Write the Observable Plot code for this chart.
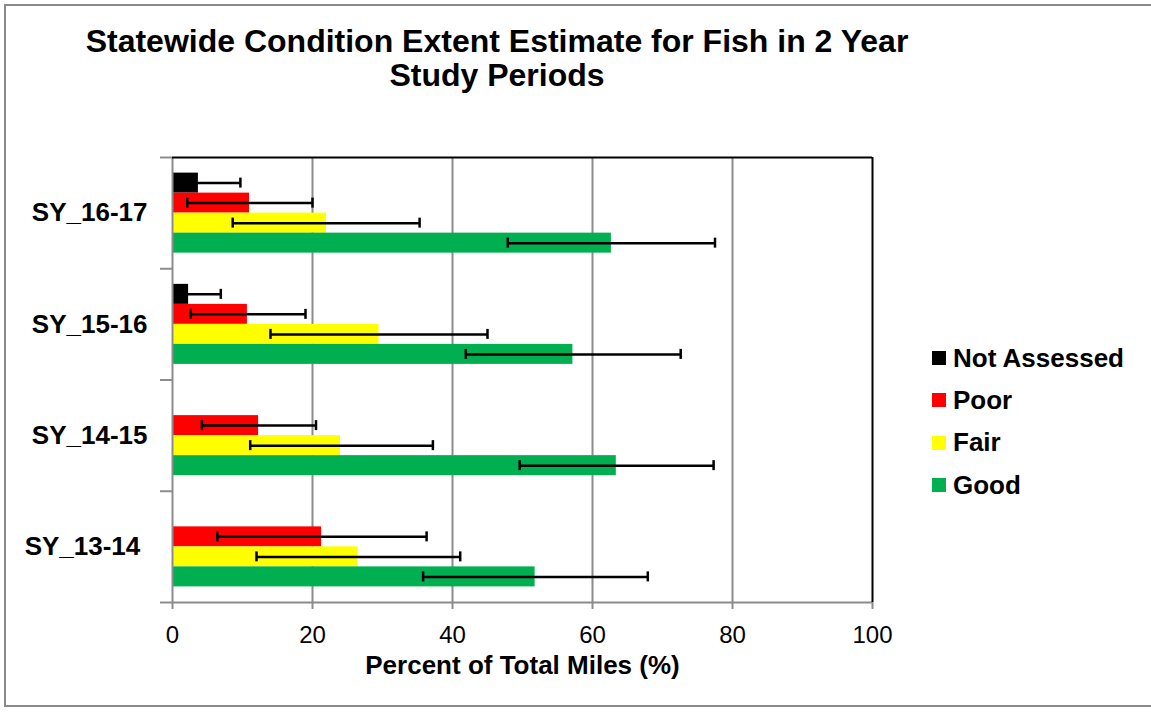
<!DOCTYPE html>
<html>
<head>
<meta charset="utf-8">
<script src="https://cdn.jsdelivr.net/npm/d3@7"></script>
<script src="https://cdn.jsdelivr.net/npm/@observablehq/plot@0.6"></script>
<style>
  html, body { margin: 0; padding: 0; background: #fff; overflow: hidden; }
  #wrap { position: relative; width: 1151px; height: 713px; font-family: "Liberation Sans", Arial, sans-serif; }
  #border { position: absolute; left: 4px; top: 4px; width: 1170px; height: 703px; border: 2px solid #8a8a8a; box-sizing: border-box; }
  #title { position: absolute; left: 0; top: 24px; width: 994px; text-align: center; font-weight: bold; font-size: 32px; line-height: 34px; color: #000; }
  #chart { position: absolute; left: 0; top: 100px; }
  #legend { position: absolute; left: 932px; top: 337px; }
  .item { display: flex; align-items: center; height: 42.3px; font-weight: bold; font-size: 26px; color: #000; }
  .sw { width: 14px; height: 14px; margin-right: 7px; }
  #chart svg text { white-space: pre; }
</style>
</head>
<body>
<div id="wrap">
  <div id="border"></div>
  <div id="title"></div>
  <div id="chart"></div>
  <div id="legend"></div>
</div>
<script>
// ---- data ----
const titleLines = ["Statewide Condition Extent Estimate for Fish in 2 Year", "Study Periods"];
const xLabel = "Percent of Total Miles (%)";
const categories = ["SY_13-14 ", "SY_14-15", "SY_15-16", "SY_16-17"]; // bottom to top
const seriesNames = ["Not Assessed", "Poor", "Fair", "Good"];       // top to bottom within a group
const seriesColors = ["#000000", "#FF0000", "#FFFF00", "#00B050"];
const xTicks = [0, 20, 40, 60, 80, 100];

const notAssessed     = [null, null, 2.3, 3.7];
const notAssessedLow  = [null, null, -2.3, -2.3];
const notAssessedHigh = [null, null, 6.9, 9.7];

const poor     = [21.3, 12.3, 10.7, 11.0];
const poorLow  = [6.4, 4.2, 2.6, 2.1];
const poorHigh = [36.3, 20.5, 19.0, 20.0];

const fair     = [26.5, 24.0, 29.5, 22.0];
const fairLow  = [12.0, 11.1, 14.0, 8.6];
const fairHigh = [41.1, 37.2, 45.0, 35.3];

const good     = [51.8, 63.4, 57.2, 62.7];
const goodLow  = [35.8, 49.6, 41.9, 47.9];
const goodHigh = [67.9, 77.3, 72.6, 77.5];

// ---- build table ----
const seriesData = [
  [notAssessed, notAssessedLow, notAssessedHigh],
  [poor, poorLow, poorHigh],
  [fair, fairLow, fairHigh],
  [good, goodLow, goodHigh]
];
const inner = d3.scaleBand().domain(seriesNames).range([1, 0]).paddingInner(0).paddingOuter(0.78);
const rows = [];
seriesNames.forEach((s, si) => {
  const [vals, lows, highs] = seriesData[si];
  categories.forEach((c, ci) => {
    if (vals[ci] == null) return;
    const y1 = ci + inner(s);
    const y2 = y1 + inner.bandwidth();
    rows.push({cat: c, series: s, value: vals[ci], low: lows[ci], high: highs[ci], y1, y2, yc: (y1 + y2) / 2});
  });
});

// ---- title ----
document.getElementById("title").innerHTML = titleLines.join("<br>");

// ---- legend ----
const legend = document.getElementById("legend");
seriesNames.forEach((s, i) => {
  const it = document.createElement("div");
  it.className = "item";
  const sw = document.createElement("span");
  sw.className = "sw";
  sw.style.background = seriesColors[i];
  it.appendChild(sw);
  it.appendChild(document.createTextNode(s));
  legend.appendChild(it);
});

// ---- chart ----
const gray = "#8c8c8c";
const chart = Plot.plot({
  width: 880,
  height: 600,
  marginTop: 57,
  marginLeft: 172,
  marginRight: 8,
  marginBottom: 98,
  style: {fontFamily: "'Liberation Sans', Arial, sans-serif", color: "#000", background: "transparent", overflow: "visible"},
  x: {domain: [0, 100], label: null},
  y: {domain: [0, categories.length], label: null},
  color: {domain: seriesNames, range: seriesColors},
  marks: [
    Plot.ruleX(xTicks.slice(1, -1), {stroke: gray, strokeWidth: 2}),
    Plot.rect(rows, {x1: 0, x2: "value", y1: "y1", y2: "y2", fill: "series"}),
    Plot.ruleY(rows, {y: "yc", x1: "low", x2: "high", stroke: "#000", strokeWidth: 2.5, clip: true}),
    Plot.ruleX(rows, {x: "low", y1: "yc", y2: "yc", insetTop: -5, insetBottom: -5, stroke: "#000", strokeWidth: 2.5, clip: true}),
    Plot.ruleX(rows, {x: "high", y1: "yc", y2: "yc", insetTop: -5, insetBottom: -5, stroke: "#000", strokeWidth: 2.5, clip: true}),
    Plot.ruleX([0], {stroke: gray, strokeWidth: 2}),
    Plot.ruleY([0], {stroke: gray, strokeWidth: 2}),
    Plot.ruleY([categories.length], {stroke: "#000", strokeWidth: 2}),
    Plot.ruleX([100], {stroke: "#000", strokeWidth: 2}),
    Plot.axisY({ticks: d3.range(categories.length + 1), tickSize: 12, tickFormat: () => "", stroke: gray, strokeWidth: 2, label: null}),
    Plot.axisY({ticks: categories.map((c, i) => i + 0.5), tickSize: 0, tickPadding: 25, tickFormat: d => categories[Math.floor(d)], fontSize: 26, fontWeight: "bold", fill: "#000", label: null}),
    Plot.axisX({ticks: xTicks, tickSize: 7, tickPadding: 16, stroke: gray, strokeWidth: 2, fontSize: 24, fill: "#000", label: null}),
    Plot.text([xLabel], {frameAnchor: "bottom", dy: 71, fontSize: 26, fontWeight: "bold", fill: "#000"})
  ]
});
document.getElementById("chart").appendChild(chart);
</script>
</body>
</html>
